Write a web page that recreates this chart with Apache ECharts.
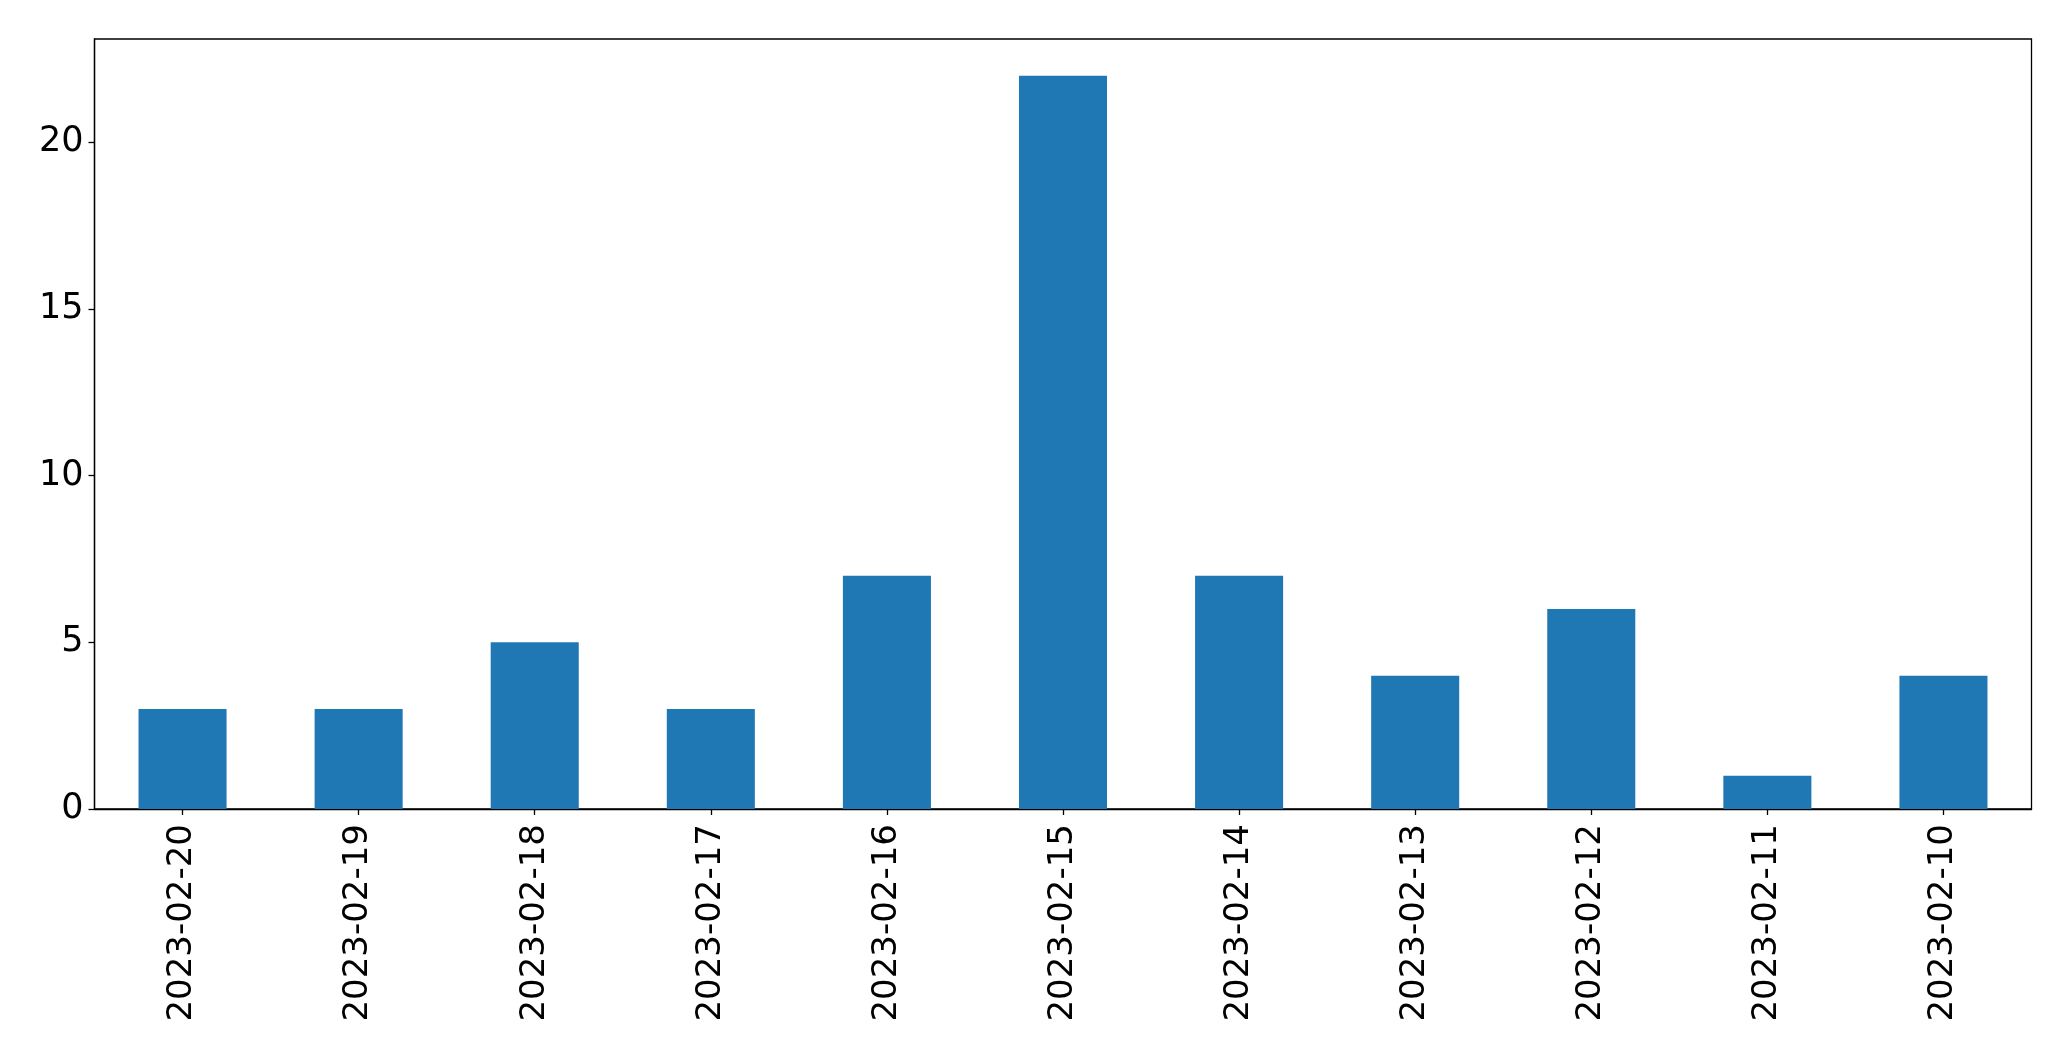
<!DOCTYPE html>
<html>
<head>
<meta charset="utf-8">
<script src="https://cdn.jsdelivr.net/npm/echarts@6/dist/echarts.min.js"></script>
<style>
html,body{margin:0;padding:0;background:#fff;}
#chart{width:2071px;height:1061px;}
</style>
</head>
<body>
<div id="chart"></div>
<script>
const categories = ["2023-02-20","2023-02-19","2023-02-18","2023-02-17","2023-02-16","2023-02-15","2023-02-14","2023-02-13","2023-02-12","2023-02-11","2023-02-10"];
const values = [3,3,5,3,7,22,7,4,6,1,4];
const yTicks = [0,5,10,15,20];

const chart = echarts.init(document.getElementById('chart'), null, {renderer:'canvas'});
const font = 'DejaVu Sans';
chart.setOption({
  animation: false,
  backgroundColor: '#ffffff',
  grid: {left: 94.5, right: 39.5, top: 39, bottom: 252, show: true, borderColor: '#000', borderWidth: 1.3, backgroundColor: 'transparent'},
  xAxis: {
    type: 'category',
    data: categories,
    boundaryGap: true,
    axisLine: {show: true, lineStyle: {color: '#000', width: 1.3}},
    axisTick: {show: true, alignWithLabel: true, length: 6, lineStyle: {color: '#000', width: 1.3}},
    axisLabel: {rotate: 90, margin: 15, color: '#000', fontFamily: font, fontSize: 34, interval: 0},
    splitLine: {show: false}
  },
  yAxis: {
    type: 'value',
    min: 0,
    max: 23.1,
    interval: 5,
    axisLine: {show: true, lineStyle: {color: '#000', width: 1.3}},
    axisTick: {show: true, length: 6, customValues: yTicks, lineStyle: {color: '#000', width: 1.3}},
    axisLabel: {margin: 11, color: '#000', fontFamily: font, fontSize: 35, customValues: yTicks},
    splitLine: {show: false}
  },
  series: [{
    type: 'bar',
    data: values,
    barWidth: '50%',
    itemStyle: {color: '#1f77b4'}
  }]
});
</script>
</body>
</html>
